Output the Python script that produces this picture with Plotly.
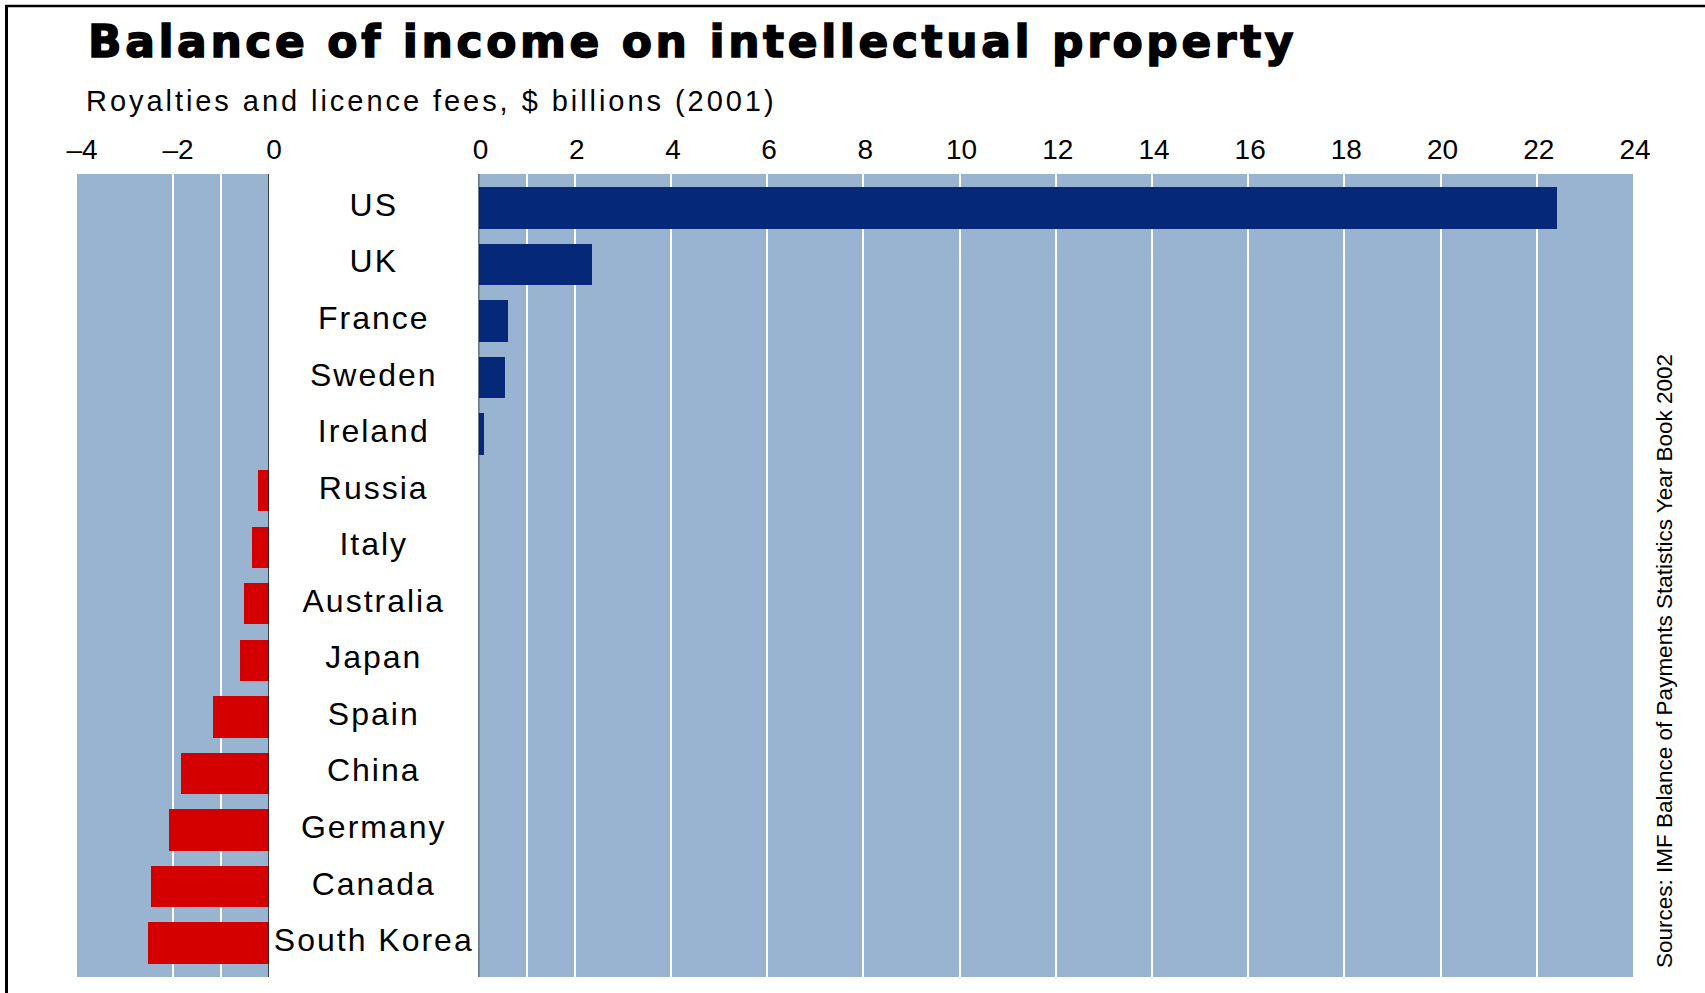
import plotly.graph_objects as go

# Royalties and licence fees balance, $ billions (2001)
countries = ["US", "UK", "France", "Sweden", "Ireland", "Russia", "Italy",
             "Australia", "Japan", "Spain", "China", "Germany", "Canada",
             "South Korea"]
balance = [22.4, 2.34, 0.6, 0.54, 0.1, -0.22, -0.36, -0.53, -0.61, -1.17,
           -1.83, -2.08, -2.46, -2.52]

left_ticks = [-4, -2, 0]
left_ticktext = ["\u20134", "\u20132", "0"]
right_ticks = list(range(0, 25, 2))

surplus = [v if v > 0 else None for v in balance]
deficit = [v if v < 0 else None for v in balance]

W, H = 1705, 993


def fx(px):
    return px / W


def fy(px):
    return 1 - px / H


PANEL = "#98b4d0"
NAVY = "#062878"
RED = "#d40000"
SANS = "Liberation Sans, Arial, Helvetica, sans-serif"

fig = go.Figure()

fig.add_trace(go.Bar(
    x=deficit, y=countries, orientation="h", xaxis="x", yaxis="y",
    marker=dict(color=RED, line=dict(width=0)), width=0.73,
    hoverinfo="x+y", showlegend=False,
))
fig.add_trace(go.Bar(
    x=surplus, y=countries, orientation="h", xaxis="x2", yaxis="y2",
    marker=dict(color=NAVY, line=dict(width=0)), width=0.73,
    hoverinfo="x+y", showlegend=False,
))
# country names in the white column between the two panels
fig.add_trace(go.Scatter(
    x=[0.5] * len(countries), y=countries, xaxis="x3", yaxis="y3",
    mode="text",
    text=[f'<span style="letter-spacing:2px">{c}</span>' for c in countries],
    textposition="middle center",
    textfont=dict(family=SANS, size=32, color="#000"),
    hoverinfo="skip", showlegend=False,
))

y_dom = [fy(977), fy(174)]
y_common = dict(domain=y_dom, type="category", categoryorder="array",
                categoryarray=countries, range=[13.6, -0.6],
                showgrid=False, showticklabels=False, zeroline=False,
                showline=False, ticks="", fixedrange=True)

tickfont = dict(family=SANS, size=28, color="#000")

fig.update_layout(
    width=W, height=H,
    margin=dict(l=0, r=0, t=0, b=0),
    paper_bgcolor="white", plot_bgcolor="white",
    bargap=0,
    xaxis=dict(domain=[fx(77), fx(269)], range=[-4, 0], anchor="y",
               side="top", tickmode="array", tickvals=left_ticks,
               ticktext=left_ticktext, tickfont=tickfont, ticks="",
               ticklabelstandoff=8, ticklabelshift=5,
               showgrid=True, gridcolor="white", gridwidth=2,
               minor=dict(tickmode="array", tickvals=[-1], showgrid=True,
                          gridcolor="white", gridwidth=2),
               zeroline=False, showline=False, fixedrange=True,
               automargin=False),
    xaxis2=dict(domain=[fx(478.5), fx(1633)], range=[0, 24], anchor="y2",
                side="top", tickmode="array", tickvals=right_ticks,
                tickfont=tickfont, ticks="", ticklabelstandoff=8,
                ticklabelshift=2,
                showgrid=True, gridcolor="white", gridwidth=2,
                minor=dict(tickmode="array", tickvals=[1], showgrid=True,
                           gridcolor="white", gridwidth=2),
                zeroline=False, showline=False, fixedrange=True,
                automargin=False),
    xaxis3=dict(domain=[fx(269), fx(478.5)], range=[0, 1], anchor="y3",
                visible=False, fixedrange=True),
    yaxis=dict(anchor="x", **y_common),
    yaxis2=dict(anchor="x2", matches="y", **y_common),
    yaxis3=dict(anchor="x3", matches="y", **y_common),
)

shapes = []
# panel backgrounds, beneath the gridlines
for xr, yr in (("x domain", "y domain"), ("x2 domain", "y2 domain")):
    shapes.append(dict(type="rect", xref=xr, yref=yr, x0=0, x1=1, y0=0, y1=1,
                       fillcolor=PANEL, line=dict(width=0), layer="below"))
# zero lines of both panels
for xr, yr in (("x", "y domain"), ("x2", "y2 domain")):
    shapes.append(dict(type="line", xref=xr, yref=yr, x0=0, x1=0, y0=0, y1=1,
                       line=dict(color="#1a1a1a", width=1.5), layer="above"))
# frame
shapes.append(dict(type="line", xref="paper", yref="paper",
                   x0=fx(6.5), x1=fx(6.5), y0=-0.01, y1=fy(5),
                   line=dict(color="#000", width=3)))
shapes.append(dict(type="line", xref="paper", yref="paper",
                   x0=fx(5), x1=1.01, y0=fy(6), y1=fy(6),
                   line=dict(color="#000", width=2.5)))
fig.update_layout(shapes=shapes)

fig.add_annotation(
    xref="paper", yref="paper", x=fx(86), y=fy(42),
    xanchor="left", yanchor="middle", showarrow=False,
    text='<span style="letter-spacing:3.6px;stroke:#000;stroke-width:1.5px">'
         'Balance of income on intellectual property</span>',
    font=dict(family="DejaVu Sans, Liberation Sans, sans-serif", size=44,
              color="#000", weight="bold"),
)
fig.add_annotation(
    xref="paper", yref="paper", x=fx(84), y=fy(101),
    xanchor="left", yanchor="middle", showarrow=False,
    text='<span style="letter-spacing:2.95px">'
         'Royalties and licence fees, $ billions (2001)</span>',
    font=dict(family=SANS, size=29, color="#000"),
)
fig.add_annotation(
    xref="paper", yref="paper", x=fx(1664), y=fy(661),
    xanchor="center", yanchor="middle", showarrow=False, textangle=-90,
    text="Sources: IMF Balance of Payments Statistics Year Book 2002",
    font=dict(family=SANS, size=22.5, color="#000"),
)

fig.write_html("out.html")
